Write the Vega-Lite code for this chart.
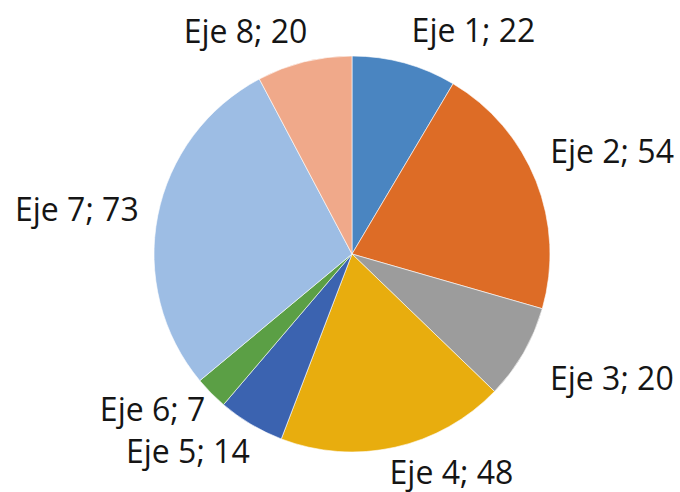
{
  "$schema": "https://vega.github.io/schema/vega-lite/v6.json",
  "width": 680,
  "height": 492,
  "autosize": {"type": "fit", "contains": "padding"},
  "padding": {"left": 24, "top": 14, "right": 0, "bottom": 0},
  "background": "white",
  "view": {"stroke": null},
  "config": {"text": {"font": "Open Sans", "fontSize": 32, "fill": "#151515", "align": "center", "baseline": "middle"}},
  "data": {
    "values": [
      {"eje": "Eje 1", "valor": 22, "etiqueta": "Eje 1; 22"},
      {"eje": "Eje 2", "valor": 54, "etiqueta": "Eje 2; 54"},
      {"eje": "Eje 3", "valor": 20, "etiqueta": "Eje 3; 20"},
      {"eje": "Eje 4", "valor": 48, "etiqueta": "Eje 4; 48"},
      {"eje": "Eje 5", "valor": 14, "etiqueta": "Eje 5; 14"},
      {"eje": "Eje 6", "valor": 7, "etiqueta": "Eje 6; 7"},
      {"eje": "Eje 7", "valor": 73, "etiqueta": "Eje 7; 73"},
      {"eje": "Eje 8", "valor": 20, "etiqueta": "Eje 8; 20"}
    ]
  },
  "encoding": {
    "theta": {"field": "valor", "type": "quantitative", "stack": true},
    "detail": {"field": "eje"}
  },
  "layer": [
    {
      "mark": {"type": "arc", "outerRadius": 198, "stroke": "#ffffff", "strokeWidth": 0.6},
      "encoding": {
        "color": {
          "field": "eje",
          "type": "nominal",
          "legend": null,
          "scale": {
            "domain": ["Eje 1", "Eje 2", "Eje 3", "Eje 4", "Eje 5", "Eje 6", "Eje 7", "Eje 8"],
            "range": ["#4a85c1", "#dd6c26", "#9c9c9c", "#e8ad0e", "#3b63b0", "#5b9f45", "#9dbde4", "#f0a98a"]
          }
        }
      }
    },
    {"mark": {"type": "text", "radius": 255, "dx": 54, "dy": 24},
     "encoding": {"text": {"condition": {"test": "datum.eje === 'Eje 1'", "field": "etiqueta"}, "value": ""}}},
    {"mark": {"type": "text", "radius": 255, "dx": 23, "dy": -7},
     "encoding": {"text": {"condition": {"test": "datum.eje === 'Eje 2'", "field": "etiqueta"}, "value": ""}}},
    {"mark": {"type": "text", "radius": 255, "dx": 39, "dy": -2},
     "encoding": {"text": {"condition": {"test": "datum.eje === 'Eje 3'", "field": "etiqueta"}, "value": ""}}},
    {"mark": {"type": "text", "radius": 255, "dx": 44, "dy": -29},
     "encoding": {"text": {"condition": {"test": "datum.eje === 'Eje 4'", "field": "etiqueta"}, "value": ""}}},
    {"mark": {"type": "text", "radius": 255, "dx": -34, "dy": -20},
     "encoding": {"text": {"condition": {"test": "datum.eje === 'Eje 5'", "field": "etiqueta"}, "value": ""}}},
    {"mark": {"type": "text", "radius": 255, "dx": -18, "dy": -22},
     "encoding": {"text": {"condition": {"test": "datum.eje === 'Eje 6'", "field": "etiqueta"}, "value": ""}}},
    {"mark": {"type": "text", "radius": 255, "dx": -25, "dy": 6},
     "encoding": {"text": {"condition": {"test": "datum.eje === 'Eje 7'", "field": "etiqueta"}, "value": ""}}},
    {"mark": {"type": "text", "radius": 255, "dx": -45, "dy": 26},
     "encoding": {"text": {"condition": {"test": "datum.eje === 'Eje 8'", "field": "etiqueta"}, "value": ""}}}
  ]
}
